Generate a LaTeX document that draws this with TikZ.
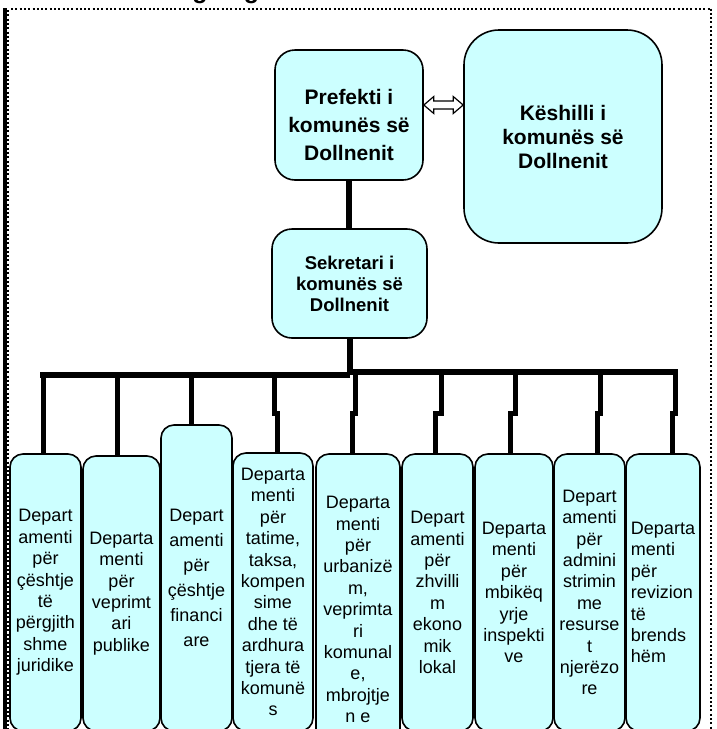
\documentclass[tikz,border=0pt]{standalone}
\usepackage{fontspec}
\setmainfont{Liberation Sans}
\usetikzlibrary{calc}
\definecolor{boxfill}{HTML}{CCFFFF}
\tikzset{
  box/.style={draw=black, line width=1.6pt, fill=boxfill, rounded corners=13pt, inner sep=0pt},
  dept/.style={box, align=center, font=\fontsize{18}{21.4}\selectfont},
  topbox/.style={box, rounded corners=20pt, align=center},
  conn/.style={line width=6pt},
  drop/.style={line width=5pt},
  framedots/.style={line width=2pt, dash pattern=on 2pt off 2.3pt},
  blockarrow/.style={draw=black, fill=white, line width=1.2pt, line join=miter},
}
\begin{document}
\begin{tikzpicture}[x=1pt, y=-1pt]
\useasboundingbox (0,0) rectangle (717,729);
\clip (0,0) rectangle (717,729);

% title fragment (cut off at top)
\node[anchor=base west, inner sep=0pt, font=\bfseries\fontsize{25}{25}\selectfont] (title) at (163,-1.5) {Organigrami};

% frame
\draw[line width=3.5pt] (5,8) -- (5,729);
\draw[framedots] (7.5,10) -- (7.5,729);
\draw[framedots] (11,8.5) -- (711,8.5);
\draw[framedots] (711,8.5) -- (711,729);

% top boxes
\node[topbox, minimum width=148pt, minimum height=130pt] (pref) at (349,115) {};
\node[align=center, inner sep=0pt, font=\bfseries\fontsize{21}{28}\selectfont] (preft) at (349,125) {Prefekti i\\komunës së\\Dollnenit};
\node[topbox, rounded corners=35pt, minimum width=198pt, minimum height=213pt, font=\bfseries\fontsize{21}{24}\selectfont] (kesh) at (563,136.5) {Këshilli i\\komunës së\\Dollnenit};
\node[topbox, minimum width=155pt, minimum height=109pt, font=\bfseries\fontsize{18.5}{21}\selectfont] (sek) at (349.5,283.5) {Sekretari i\\komunës së\\Dollnenit};

% double block arrow
\coordinate (aL) at (pref.east |- 0,105);
\coordinate (aR) at (kesh.west |- 0,105);
\draw[blockarrow] (aL) -- ++(10,-8.5) -- ++(0,4.5) -- ($(aR)+(-10,-4)$) -- ++(0,-4.5) -- (aR)
  -- ++(-10,8.5) -- ++(0,-4.5) -- ($(aL)+(10,4)$) -- ++(0,4.5) -- cycle;

% department boxes
\node[dept, minimum width=71pt, minimum height=277pt] (b1) at (45.5,592.5) {Depart\\amenti\\për\\çështje\\të\\përgjith\\shme\\juridike};
\node[dept, minimum width=77pt, minimum height=275pt] (b2) at (121.5,593.5) {Departa\\menti\\për\\veprimt\\ari\\publike};
\node[dept, minimum width=71pt, minimum height=306pt, font=\fontsize{18}{25}\selectfont] (b3) at (196.5,578) {Depart\\amenti\\për\\çështje\\financi\\are};
\node[dept, minimum width=80pt, minimum height=278pt] (b4) at (273,592) {Departa\\menti\\për\\tatime,\\taksa,\\kompen\\sime\\dhe të\\ardhura\\tjera të\\komunë\\s};
\node[dept, minimum width=84pt, minimum height=311pt] (b5) at (358,609.5) {Departa\\menti\\për\\urbanizë\\m,\\veprimta\\ri\\komunal\\e,\\mbrojtje\\n e};
\node[dept, minimum width=71pt, minimum height=277pt] (b6) at (437.5,592.5) {Depart\\amenti\\për\\zhvilli\\m\\ekono\\mik\\lokal};
\node[dept, minimum width=78pt, minimum height=277pt] (b7) at (514,592.5) {Departa\\menti\\për\\mbikëq\\yrje\\inspekti\\ve};
\node[dept, minimum width=71pt, minimum height=277pt] (b8) at (589.5,592.5) {Depart\\amenti\\për\\admini\\strimin\\me\\resurse\\t\\njerëzo\\re};
\node[dept, align=left, minimum width=74pt, minimum height=277pt] (b9) at (663,592.5) {Departa\\menti\\për\\revizion\\të\\brends\\hëm};

% connectors
\draw[conn] (pref.south) -- (pref.south |- sek.north);
\coordinate (barL) at (40,375);
\coordinate (barM) at (349.5,375);
\coordinate (barMR) at (349.5,372);
\coordinate (barR) at (678,372);
\draw[conn] (sek.south) -- (barM);
\draw[conn] (barL) -- (barM);
\draw[conn] (barMR) -- (barR);

\coordinate (j1) at (43,375);
\coordinate (j2) at (117,375);
\coordinate (j3) at (191,375);
\draw[drop] (j1) -- (j1 |- b1.north);
\draw[drop] (j2) -- (j2 |- b2.north);
\draw[drop] (j3) -- (j3 |- b3.north);

\coordinate (j4) at (274,375); \coordinate (k4) at (277,413);
\coordinate (j5) at (355,372); \coordinate (k5) at (352,413);
\coordinate (j6) at (441,372); \coordinate (k6) at (435,413);
\coordinate (j7) at (515,372); \coordinate (k7) at (510,413);
\coordinate (j8) at (600,372); \coordinate (k8) at (597,413);
\coordinate (j9) at (675,372); \coordinate (k9) at (672,413);
\foreach \i in {4,...,9}{
  \draw[drop] (j\i) -- (j\i |- k\i) -- (k\i) -- (k\i |- b\i.north);
}
\end{tikzpicture}
\end{document}
